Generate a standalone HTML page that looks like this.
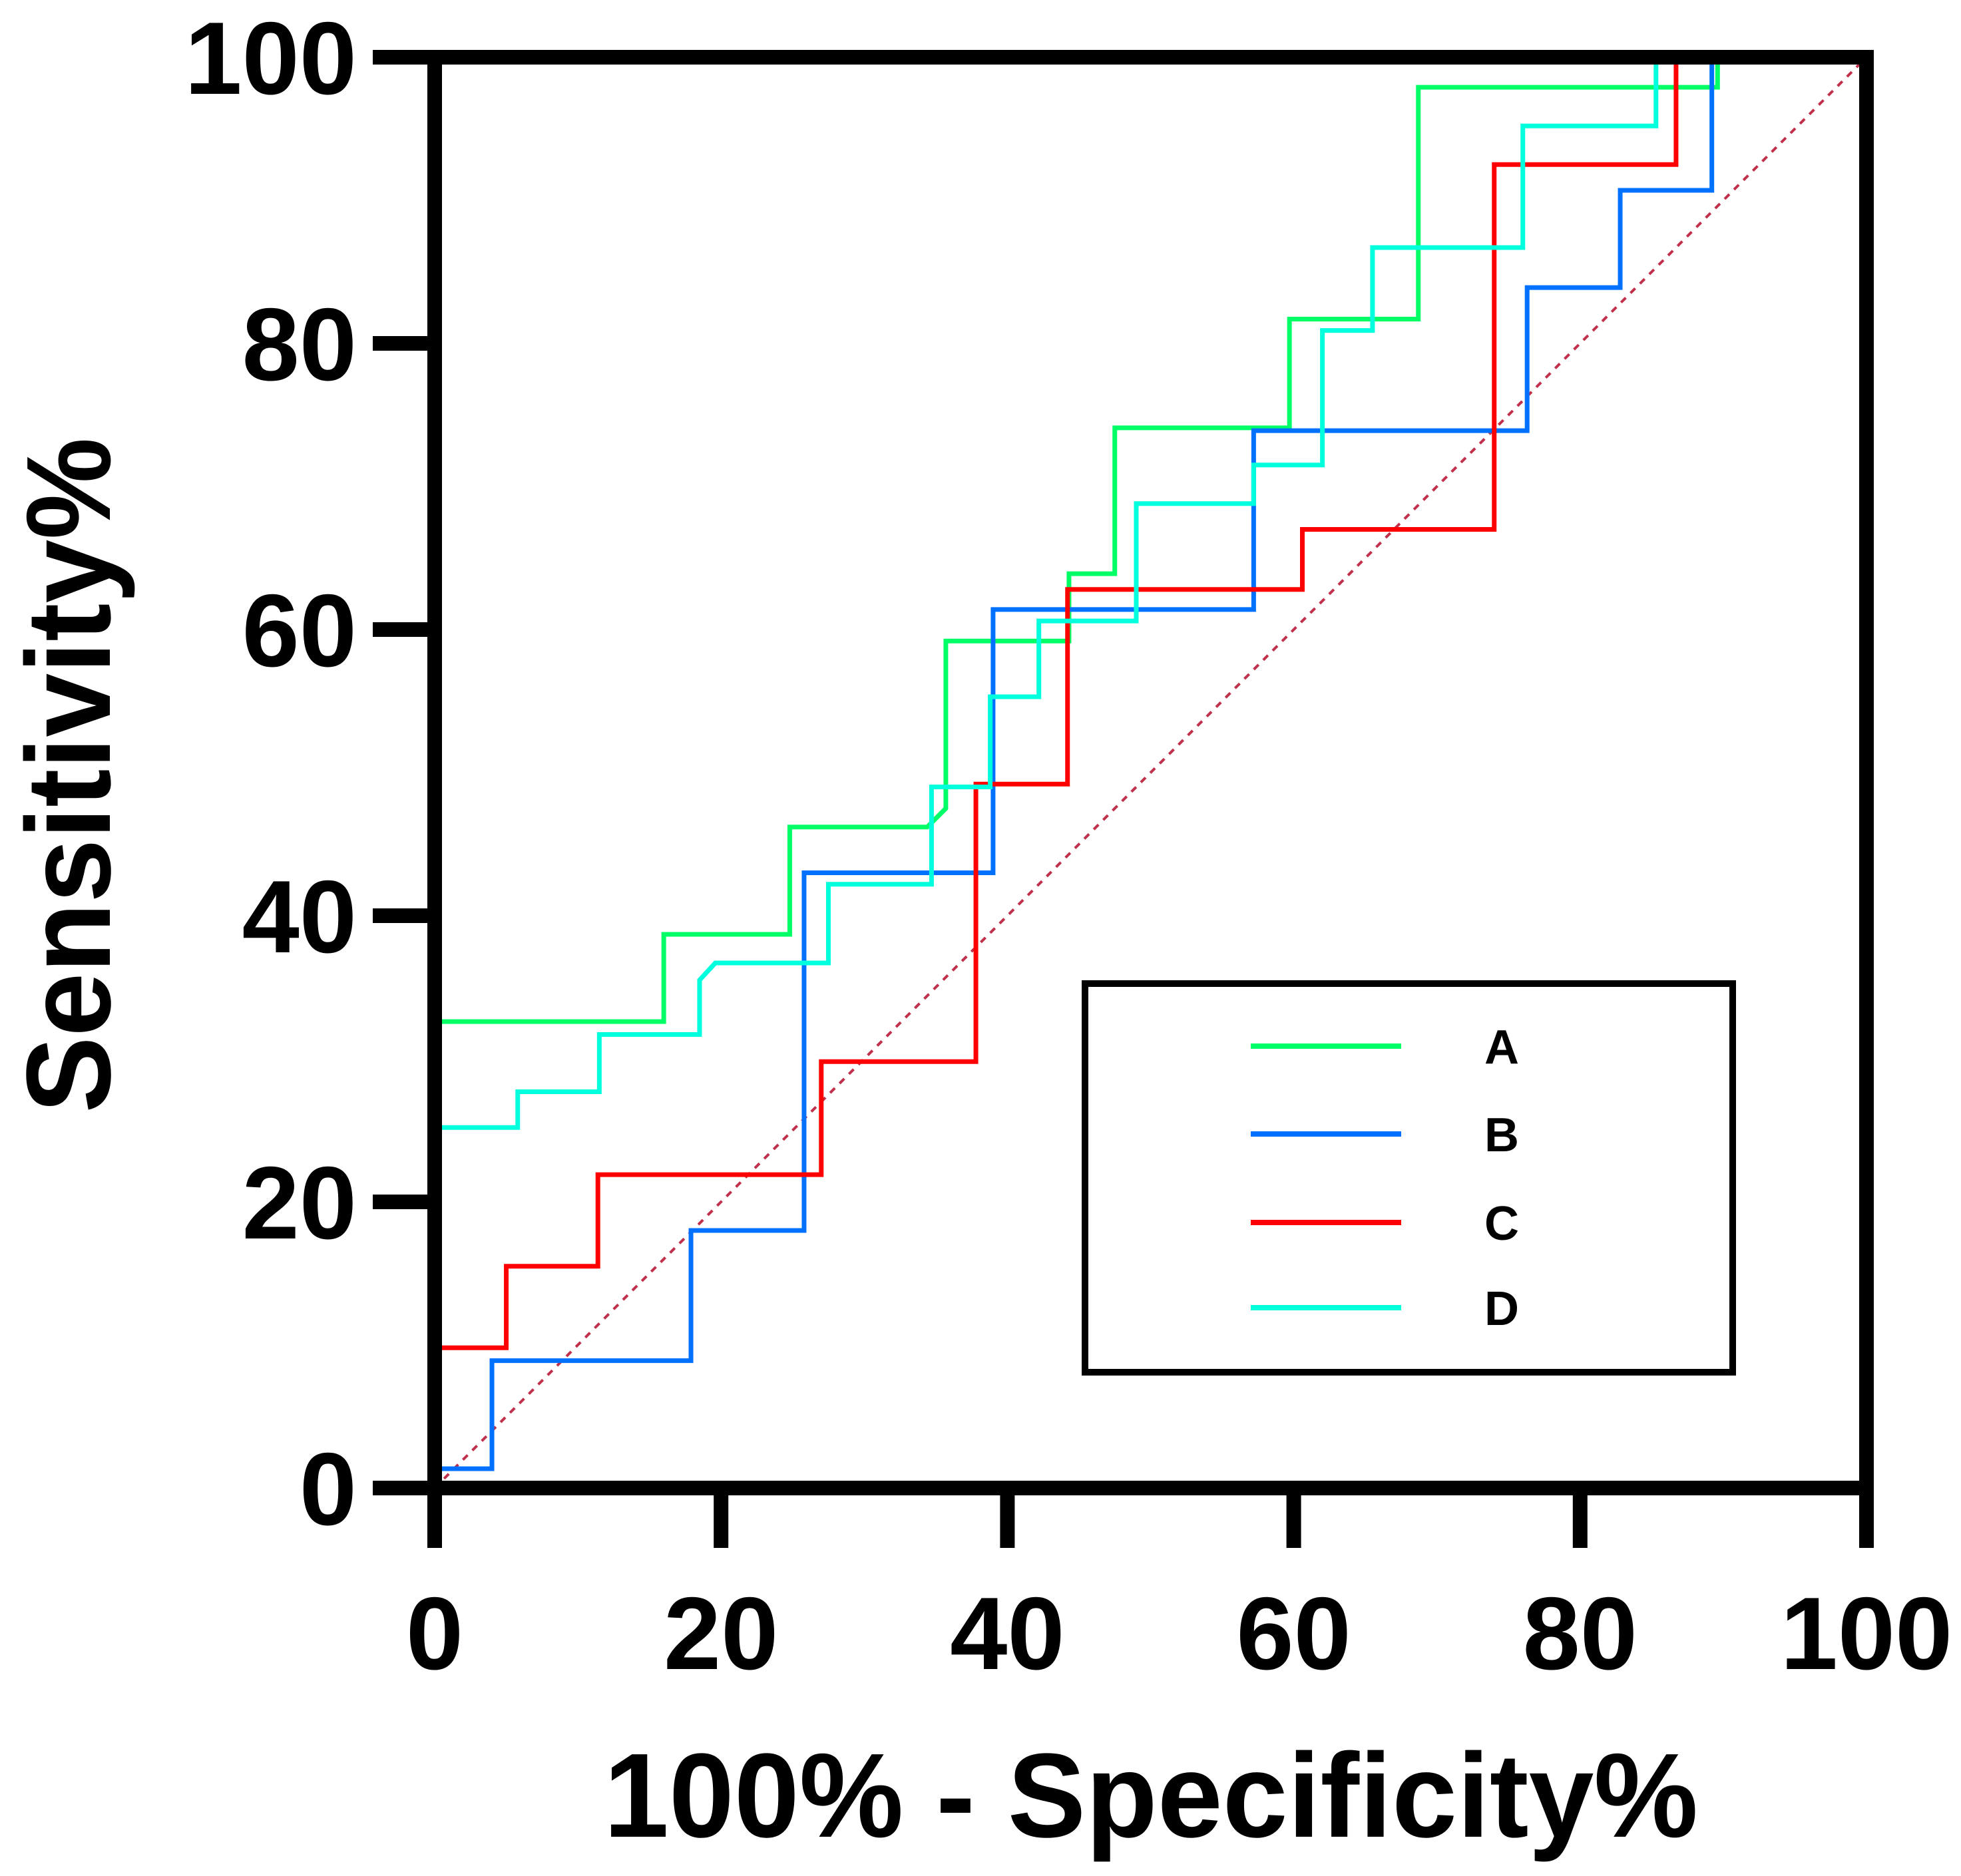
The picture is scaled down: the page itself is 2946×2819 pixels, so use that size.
<!DOCTYPE html>
<html><head><meta charset="utf-8"><style>
html,body{margin:0;padding:0;background:#fff;}
svg{display:block;}
text{font-family:"Liberation Sans",Arial,sans-serif;font-weight:bold;fill:#000;}
</style></head><body>
<svg id="chart" width="2946" height="2819" viewBox="0 0 2946 2819" xmlns="http://www.w3.org/2000/svg">
<rect width="2946" height="2819" fill="#fff"/>
<g id="plot"></g>
<g id="axes"></g>
<text x="1729" y="2760" font-size="180" text-anchor="middle" textLength="1644" lengthAdjust="spacingAndGlyphs">100% - Specificity%</text>
<text transform="translate(165,1165) rotate(-90)" x="0" y="0" font-size="180" text-anchor="middle" textLength="1015" lengthAdjust="spacingAndGlyphs">Sensitivity%</text>
<g id="legend"></g>
</svg>
<script>
const seriesNames = ["A","B","C","D"];
const seriesColors = ["#00ff66","#0070ff","#ff0000","#00ffdd"];
const fprA = [0,16,16,24.8,24.8,34.4,35.7,35.7,44.3,44.3,47.5,47.5,59.7,59.7,68.7,68.7,89.6,89.6];
const tprA = [32.6,32.6,38.7,38.7,46.2,46.2,47.5,59.2,59.2,63.9,63.9,74.1,74.1,81.7,81.7,97.9,97.9,100];
const fprB = [0,4,4,17.9,17.9,25.8,25.8,39,39,57.2,57.2,76.3,76.3,82.8,82.8,89.2,89.2];
const tprB = [1.35,1.35,8.9,8.9,18,18,43,43,61.4,61.4,73.9,73.9,83.9,83.9,90.7,90.7,100];
const fprC = [0,5,5,11.4,11.4,27,27,37.8,37.8,44.2,44.2,60.6,60.6,74,74,86.7,86.7];
const tprC = [9.8,9.8,15.5,15.5,21.9,21.9,29.8,29.8,49.2,49.2,62.8,62.8,67,67,92.5,92.5,100];
const fprD = [0,5.8,5.8,11.5,11.5,18.5,18.5,19.6,27.5,27.5,34.7,34.7,38.8,38.8,42.2,42.2,49,49,57.2,57.2,62,62,65.5,65.5,76,76,85.3,85.3];
const tprD = [25.2,25.2,27.7,27.7,31.7,31.7,35.5,36.7,36.7,42.2,42.2,49,49,55.3,55.3,60.6,60.6,68.8,68.8,71.5,71.5,80.9,80.9,86.7,86.7,95.2,95.2,100];
const xTicks = [0,20,40,60,80,100];
const yTicks = [0,20,40,60,80,100];
const refX = [0,100];
const refY = [0,100];

const NS="http://www.w3.org/2000/svg";
const X0=653,X1=2804,Y0=2236,Y1=86;
function sx(v){return X0+(X1-X0)*v/100;}
function sy(v){return Y0-(Y0-Y1)*v/100;}
function mk(tag,attrs,parent){const e=document.createElementNS(NS,tag);for(const k in attrs)e.setAttribute(k,attrs[k]);parent.appendChild(e);return e;}
const plot=document.getElementById('plot'),axes=document.getElementById('axes'),legend=document.getElementById('legend');

const ref=mk('line',{x1:sx(refX[0]),y1:sy(refY[0]),x2:sx(refX[1]),y2:sy(refY[1]),stroke:'#c0304a','stroke-width':4,'stroke-dasharray':'10 10'},plot);



const allF=[fprA,fprB,fprC,fprD],allT=[tprA,tprB,tprC,tprD];
allF.forEach((f,i)=>{
  const pts=f.map((v,j)=>sx(v)+','+sy(allT[i][j])).join(' ');
  const pl=mk('polyline',{points:pts,fill:'none',stroke:seriesColors[i],'stroke-width':7,'stroke-linejoin':'miter'},plot);
  
  
});

// frame
[[X0,Y1-11,X0,2326],[X1,Y1-11,X1,2326],[X0-11,Y1,X1+11,Y1],[560,Y0,X1+11,Y0]].forEach((l,k)=>{
  const ln=mk('line',{x1:l[0],y1:l[1],x2:l[2],y2:l[3],stroke:'#000','stroke-width':22},axes);
  
  
});
xTicks.forEach(t=>{
  const tk=mk('line',{x1:sx(t),y1:Y0,x2:sx(t),y2:2326,stroke:'#000','stroke-width':22},axes);
  
  
  const tx=mk('text',{x:sx(t),y:2508,'font-size':155,'text-anchor':'middle'},axes);
  tx.textContent=t;
  
  
});
yTicks.forEach(t=>{
  const tk=mk('line',{x1:560,y1:sy(t),x2:X0,y2:sy(t),stroke:'#000','stroke-width':22},axes);
  
  
  const tx=mk('text',{x:536,y:sy(t)+55,'font-size':155,'text-anchor':'end'},axes);
  tx.textContent=t;
  
  
});

// legend
const box=mk('rect',{x:1630,y:1478,width:973,height:584,fill:'#fff',stroke:'#000','stroke-width':10},legend);


const ly=[1572,1704,1837,1965];
seriesNames.forEach((n,i)=>{
  const ln=mk('line',{x1:1879,y1:ly[i],x2:2105,y2:ly[i],stroke:seriesColors[i],'stroke-width':8},legend);
  
  
  const tx=mk('text',{x:2256,y:ly[i]+26,'font-size':72,'text-anchor':'middle'},legend);
  tx.textContent=n;
  
  
});
</script>
</body></html>
